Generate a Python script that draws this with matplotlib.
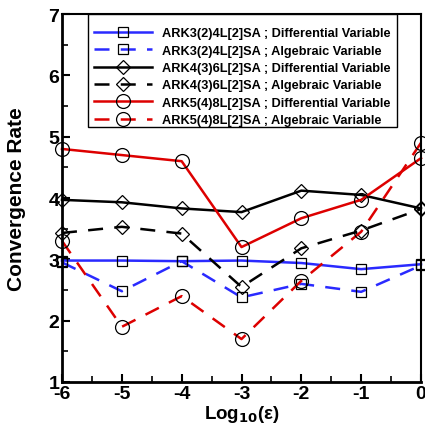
import matplotlib
matplotlib.use("Agg")
import matplotlib.pyplot as plt
from matplotlib.patches import Rectangle

plt.rcParams['font.family'] = ['Liberation Sans', 'DejaVu Sans']

x = [-6, -5, -4, -3, -2, -1, 0]
ark3_diff = [2.98, 2.98, 2.97, 2.98, 2.94, 2.84, 2.92]
ark3_alg = [2.95, 2.48, 2.97, 2.38, 2.60, 2.47, 2.90]
ark4_diff = [3.97, 3.93, 3.83, 3.77, 4.12, 4.05, 3.83]
ark4_alg = [3.43, 3.53, 3.42, 2.55, 3.18, 3.47, 3.82]
ark5_diff = [4.80, 4.70, 4.60, 3.20, 3.67, 3.97, 4.65]
ark5_alg = [3.30, 1.90, 2.40, 1.70, 2.65, 3.45, 4.90]
labels = ["ARK3(2)4L[2]SA ; Differential Variable",
          "ARK3(2)4L[2]SA ; Algebraic Variable",
          "ARK4(3)6L[2]SA ; Differential Variable",
          "ARK4(3)6L[2]SA ; Algebraic Variable",
          "ARK5(4)8L[2]SA ; Differential Variable",
          "ARK5(4)8L[2]SA ; Algebraic Variable"]

W, H = 425, 427
fig = plt.figure(figsize=(W/100, H/100), dpi=100)
ax = fig.add_axes([62/W, 1-383/H, (421-62)/W, (383-15)/H])

dash = (0, (6, 4.5))
series = [
    (ark3_diff, '#2a2aff', '-', 's', 6.8, labels[0]),
    (ark3_alg, '#2a2aff', dash, 's', 6.8, labels[1]),
    (ark4_diff, 'black', '-', 'D', 7.5, labels[2]),
    (ark4_alg, 'black', dash, 'D', 7.5, labels[3]),
    (ark5_diff, '#dd0000', '-', 'o', 10, labels[4]),
    (ark5_alg, '#dd0000', dash, 'o', 10, labels[5]),
]
for ys, c, ls, m, ms, lab in series:
    ax.plot(x, ys, color=c, linestyle=ls, linewidth=1.8, marker=m,
            markersize=ms, markerfacecolor='none',
            markeredgecolor='black', markeredgewidth=0.9, label=lab,
            clip_on=False)

ax.set_xlim(-6, 0)
ax.set_ylim(1, 7)
ax.set_xticks(x)
ax.set_xticklabels([str(v) for v in x])
ax.set_yticks([1, 2, 3, 4, 5, 6, 7])
ax.set_xticks([-5.5, -4.5, -3.5, -2.5, -1.5, -0.5], minor=True)
ax.set_yticks([1.5, 2.5, 3.5, 4.5, 5.5, 6.5], minor=True)
ax.tick_params(which='major', direction='in', length=6, width=1.5,
               labelsize=14, pad=2)
ax.tick_params(which='minor', direction='in', length=4, width=1.2)
for lbl in ax.get_xticklabels() + ax.get_yticklabels():
    lbl.set_fontweight('bold')
for s in ['left', 'bottom']:
    ax.spines[s].set_linewidth(2)
for s in ['top', 'right']:
    ax.spines[s].set_linewidth(1.5)

ax.set_xlabel(r'Log$_{\mathbf{10}}$(ε)', fontsize=13.5,
              fontweight='bold', labelpad=1)
ax.set_ylabel('Convergence Rate', fontsize=15, fontweight='bold', labelpad=16)

# legend frame drawn separately (reference has larger top padding)
frame = Rectangle((88/W, 1-128/H), (397-88)/W, (128-15)/H,
                  transform=fig.transFigure, facecolor='white',
                  edgecolor='black', linewidth=1.0, zorder=4, clip_on=False)
ax.add_patch(frame)
leg = ax.legend(loc='upper left', bbox_to_anchor=(88/W, 1-22/H),
                bbox_transform=fig.transFigure, borderaxespad=0,
                fontsize=9.2, frameon=False,
                handlelength=4.5, handletextpad=0.8, borderpad=0.5,
                labelspacing=0.42)
leg.set_zorder(6)
for t in leg.get_texts():
    t.set_fontweight('bold')

fig.savefig('out.png', dpi=100)
